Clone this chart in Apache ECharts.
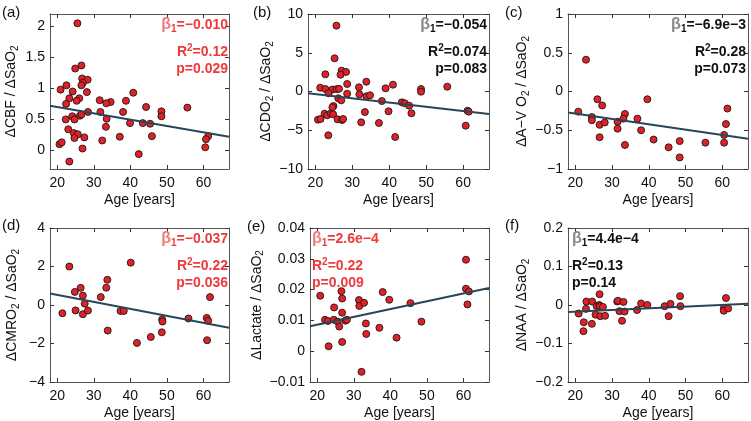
<!DOCTYPE html>
<html><head><meta charset="utf-8">
<script src="https://cdn.jsdelivr.net/npm/echarts@6/dist/echarts.min.js"></script>
<style>html,body{margin:0;padding:0;background:#fff}#c{width:751px;height:421px}</style>
</head><body><div id="c"></div>
<script>
// ---------------- data ----------------
const xTicks = [20, 30, 40, 50, 60];
const xRange = [18, 67];
const lineAges = [18, 67];

const ageA = [25.5,26.6,24.9,26.8,28.3,27.0,26.6,20.9,22.5,28.1,24.2,40.8,23.3,26.0,25.3,31.6,34.6,33.4,38.8,22.4,44.3,55.6,48.5,48.5,28.4,31.8,38.0,26.2,26.6,24.1,22.3,24.7,33.5,39.9,43.4,45.4,23.0,33.3,24.5,25.6,24.7,27.4,37.1,45.9,61.3,60.7,32.3,20.6,21.2,26.9,60.5,42.3,23.3];
const valA = [2.05,1.37,1.32,1.16,1.14,1.09,1.05,0.98,1.05,0.94,0.95,0.93,0.84,0.84,0.80,0.81,0.78,0.76,0.80,0.75,0.70,0.69,0.63,0.55,0.62,0.62,0.62,0.56,0.58,0.55,0.50,0.50,0.51,0.44,0.44,0.43,0.34,0.38,0.28,0.26,0.20,0.21,0.22,0.23,0.23,0.18,0.16,0.10,0.13,0.03,0.05,-0.06,-0.18];
const lineA = [0.72, 0.22];

const ageB = [25.7,25.2,22.7,27.1,28.3,26.8,21.3,22.7,24.6,25.7,26.4,23.6,28.6,28.6,26.2,27.0,31.8,31.9,33.8,33.8,34.8,39.0,41.0,38.0,43.4,44.2,45.4,48.6,48.6,55.7,61.2,61.5,60.7,46.0,39.8,33.4,32.4,37.2,41.6,23.5,20.7,21.4,22.5,23.2,24.2,24.8,26.0,27.2,27.5,24.9,24.6];
const valB = [8.5,4.28,2.22,2.69,2.52,2.17,0.49,0.32,0.25,0.30,0.35,-0.23,0.97,-0.28,-0.88,-1.14,0.54,-0.36,1.26,-0.62,-0.49,0.41,0.88,-1.23,-1.40,-1.52,-1.83,0.32,-0.03,0.62,-2.48,-2.60,-4.41,-2.81,-2.55,-2.65,-3.98,-4.06,-5.87,-5.65,-3.63,-3.55,-2.86,-3.07,-2.82,-2.94,-3.59,-3.68,-3.55,-1.87,-2.04];
const lineB = [-0.23, -2.9];

const ageC = [22.9,20.8,24.5,24.5,26.0,27.3,26.6,28.0,26.6,31.5,31.5,33.5,33.1,33.5,36.9,37.9,39.6,41.3,45.4,48.4,48.4,55.4,60.5,60.5,61.0,61.4];
const valC = [0.41,-0.26,-0.33,-0.37,-0.10,-0.18,-0.43,-0.40,-0.59,-0.39,-0.48,-0.29,-0.35,-0.69,-0.35,-0.50,-0.10,-0.62,-0.72,-0.64,-0.85,-0.66,-0.56,-0.66,-0.42,-0.22];
const lineC = [-0.27, -0.61];

const ageD = [23.3,40.1,24.8,26.4,27.0,27.5,21.4,25.0,27.0,28.4,31.9,33.4,33.7,33.8,37.3,38.2,41.8,45.6,48.7,48.8,48.6,55.9,60.9,61.3,61.0,61.8];
const valD = [2.0,2.2,0.68,0.89,0.49,0.07,-0.43,-0.28,-0.48,-0.29,0.41,0.90,1.31,-1.33,-0.31,-0.31,-1.97,-1.66,-0.75,-0.86,-1.42,-0.70,-0.67,-0.82,-1.83,0.41];
const lineD = [0.60, -1.18];

const ageE = [20.8,22.1,22.9,23.1,24.6,24.5,25.6,26.0,26.6,26.8,26.8,26.8,27.7,28.1,31.4,31.5,32.8,32.1,33.3,33.4,37.0,37.9,39.7,41.7,45.5,48.5,60.7,60.7,61.5,61.1];
const valE = [0.018,0.0102,0.0098,0.0016,0.0142,0.0102,0.0096,0.008,0.0195,0.0171,0.0125,0.003,0.0099,0.0102,0.0166,0.0147,0.0157,-0.0067,0.009,0.0056,0.0076,0.0192,0.0167,0.0044,0.0156,0.0096,0.0297,0.0203,0.0194,0.0152];
const lineE = [0.0081, 0.0205];

const ageF = [20.9,22.3,22.2,23.0,22.9,24.6,24.5,25.5,25.8,26.6,26.5,26.7,26.8,27.5,28.1,31.4,31.6,32.0,32.7,33.1,33.4,36.8,37.9,39.6,44.3,45.4,45.9,48.5,48.6,60.4,60.4,61.0,61.6];
const valF = [-0.022,-0.045,-0.068,0.009,-0.010,0.009,-0.049,-0.025,-0.003,0.028,0.0,-0.003,-0.029,-0.005,-0.028,0.009,0.011,-0.016,-0.041,0.008,-0.017,-0.013,0.004,0.0,-0.003,-0.029,0.003,0.023,-0.003,-0.009,-0.015,0.018,-0.009];
const lineF = [-0.018, 0.003];

const yTicksA = [0, 0.5, 1, 1.5, 2];          const yRangeA = [-0.3, 2.2];
const yTicksB = [-10, -5, 0, 5, 10];          const yRangeB = [-10, 10];
const yTicksC = [-1, -0.5, 0, 0.5, 1];        const yRangeC = [-1, 1];
const yTicksD = [-4, -2, 0, 2, 4];            const yRangeD = [-4, 4];
const yTicksE = [-0.01, 0, 0.01, 0.02, 0.03, 0.04]; const yRangeE = [-0.01, 0.04];
const yTicksF = [-0.2, -0.1, 0, 0.1, 0.2];    const yRangeF = [-0.2, 0.2];

const panelLetters = ['(a)', '(b)', '(c)', '(d)', '(e)', '(f)'];
const yNames = ['ΔCBF / ΔSaO{s|2}', 'ΔCDO{s|2} / ΔSaO{s|2}', 'ΔA−V O{s|2} / ΔSaO{s|2}',
                'ΔCMRO{s|2} / ΔSaO{s|2}', 'ΔLactate / ΔSaO{s|2}', 'ΔNAA / ΔSaO{s|2}'];
const xName = 'Age [years]';
const betaTexts = ['−0.010', '−0.054', '−6.9e−3', '−0.037', '2.6e−4', '4.4e−4'];
const r2Texts = ['0.12', '0.074', '0.28', '0.22', '0.22', '0.13'];
const pTexts = ['0.029', '0.083', '0.073', '0.036', '0.009', '0.14'];
const significant = [true, false, false, true, true, false];

// ---------------- layout / style ----------------
const F = '"Liberation Sans", Arial, Helvetica, sans-serif';
const grids = [
  {left: 50, top: 14, width: 179, height: 155},
  {left: 308, top: 14, width: 181, height: 155},
  {left: 568, top: 14, width: 180, height: 155},
  {left: 50, top: 228, width: 179, height: 156},
  {left: 310, top: 228, width: 179, height: 156},
  {left: 568, top: 228, width: 180, height: 156}
];
const nameGaps = [30, 27, 26, 29, 44, 27];
const letterPos = [[2, 5], [253, 5], [505, 5], [2, 218], [247, 219], [505, 218]];
const annPos = [
  {right: 751 - 228}, {right: 751 - 487}, {right: 751 - 746},
  {right: 751 - 228}, {left: 312}, {left: 572}
];

const data = [
  [ageA, valA, lineA, yRangeA, yTicksA],
  [ageB, valB, lineB, yRangeB, yTicksB],
  [ageC, valC, lineC, yRangeC, yTicksC],
  [ageD, valD, lineD, yRangeD, yTicksD],
  [ageE, valE, lineE, yRangeE, yTicksE],
  [ageF, valF, lineF, yRangeF, yTicksF]
];

const fmt = v => String(v).replace('-', '−');
const tickStyle = {show: true, inside: true, length: 4, lineStyle: {color: '#333', width: 1}};
const boxLine = {show: true, onZero: false, lineStyle: {color: '#555', width: 1}};

const option = {
  animation: false,
  backgroundColor: '#fff',
  grid: [], xAxis: [], yAxis: [], series: [], title: []
};

data.forEach((d, i) => {
  const [ages, vals, lv, yr, yt] = d;
  const g = grids[i];
  option.grid.push(Object.assign({show: false}, g));
  option.xAxis.push({
    type: 'value', gridIndex: i, min: xRange[0], max: xRange[1], position: 'bottom',
    axisLine: boxLine, splitLine: {show: false},
    axisTick: Object.assign({customValues: xTicks}, tickStyle),
    axisLabel: {customValues: xTicks, color: '#111', fontSize: 14, fontFamily: F, margin: 7, formatter: fmt},
    name: xName, nameLocation: 'middle', nameGap: 24,
    nameTextStyle: {color: '#111', fontSize: 14, fontFamily: F}
  });
  option.xAxis.push({
    type: 'value', gridIndex: i, min: xRange[0], max: xRange[1], position: 'top',
    axisLine: boxLine, splitLine: {show: false},
    axisTick: Object.assign({customValues: xTicks}, tickStyle),
    axisLabel: {show: false}
  });
  option.yAxis.push({
    type: 'value', gridIndex: i, min: yr[0], max: yr[1], position: 'left',
    axisLine: boxLine, splitLine: {show: false},
    axisTick: Object.assign({customValues: yt}, tickStyle),
    axisLabel: {customValues: yt, color: '#111', fontSize: 14, fontFamily: F, margin: 5, formatter: fmt},
    name: yNames[i], nameLocation: 'middle', nameGap: nameGaps[i], nameRotate: 90,
    nameTextStyle: {color: '#111', fontSize: 14, fontFamily: F, lineHeight: 18,
      rich: {s: {fontSize: 10, lineHeight: 8, verticalAlign: 'bottom', color: '#111', fontFamily: F}}}
  });
  option.yAxis.push({
    type: 'value', gridIndex: i, min: yr[0], max: yr[1], position: 'right',
    axisLine: boxLine, splitLine: {show: false},
    axisTick: Object.assign({customValues: yt}, tickStyle),
    axisLabel: {show: false}
  });
  option.series.push({
    type: 'scatter', xAxisIndex: 2 * i, yAxisIndex: 2 * i, z: 2,
    symbol: 'circle', symbolSize: 7,
    itemStyle: {color: '#e51f27', borderColor: '#1a1a1a', borderWidth: 0.9, opacity: 1},
    data: ages.map((a, k) => [a, vals[k]])
  });
  option.series.push({
    type: 'line', xAxisIndex: 2 * i, yAxisIndex: 2 * i, z: 3,
    symbol: 'none', lineStyle: {color: '#274758', width: 2},
    data: lineAges.map((a, k) => [a, lv[k]])
  });

  option.title.push({
    text: panelLetters[i], left: letterPos[i][0], top: letterPos[i][1], padding: 0,
    textStyle: {fontFamily: F, fontSize: 15, fontWeight: 'normal', color: '#111'}
  });
  const col = significant[i] ? '#ee3a3a' : '#111';
  const bcol = significant[i] ? '#f27b7b' : '#8a8a8a';
  const rich = {
    b: {fontFamily: F, fontSize: 16, color: bcol, lineHeight: 18},
    s: {fontFamily: F, fontSize: 10, fontWeight: 'bold', color: col, lineHeight: 8, verticalAlign: 'bottom'},
    u: {fontFamily: F, fontSize: 10, fontWeight: 'bold', color: col, lineHeight: 8, verticalAlign: 'top'},
    m: {fontFamily: F, fontSize: 14, fontWeight: 'bold', color: col, lineHeight: 18}
  };
  const lines = [
    '{b|β}{s|1}{m|=' + betaTexts[i] + '}',
    '{m|R}{u|2}{m|=' + r2Texts[i] + '}',
    '{m|p=' + pTexts[i] + '}'
  ];
  const offs = [2, 29, 46];
  lines.forEach((t, k) => {
    option.title.push(Object.assign({text: t, top: g.top + offs[k], padding: 0,
      textStyle: {rich: rich, fontFamily: F, fontSize: 14, fontWeight: 'bold', color: col, lineHeight: 18}}, annPos[i]));
  });
});

const chart = echarts.init(document.getElementById('c'), null, {renderer: 'canvas'});
chart.setOption(option);
</script>
</body></html>
